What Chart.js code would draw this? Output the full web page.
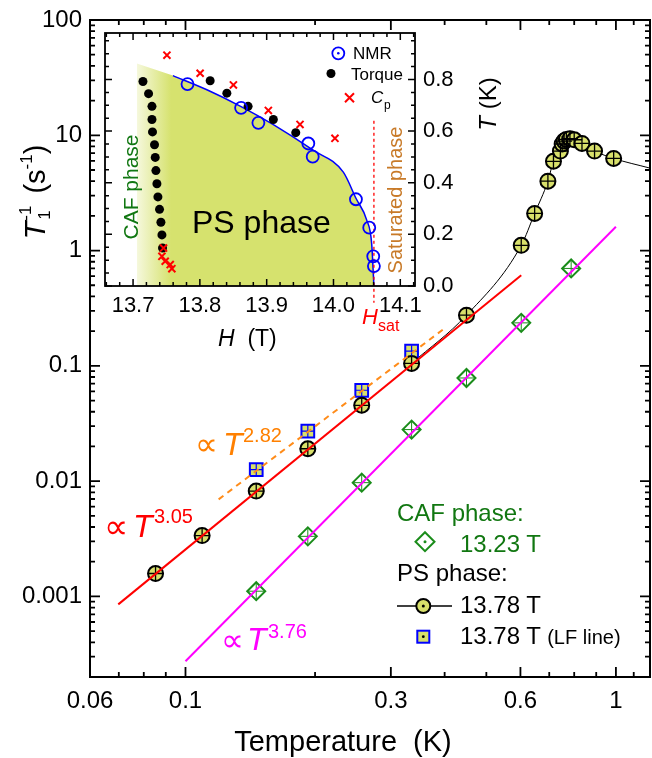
<!DOCTYPE html>
<html>
<head>
<meta charset="utf-8">
<script src="https://cdn.jsdelivr.net/npm/chart.js@4.4.1/dist/chart.umd.min.js"></script>
<style>
  body { margin: 0; background: #fff; font-family: "Liberation Sans", Arial, sans-serif; }
  #wrap { position: relative; width: 652px; height: 758px; overflow: hidden; }
  #main { position: absolute; left: 0; top: 0; }
  #inset { position: absolute; left: 94px; top: 24px; }
  .t { position: absolute; white-space: nowrap; line-height: 1; }
  .c { transform: translate(-50%, -50%); }
  .r { transform: translate(-50%, -50%) rotate(-90deg); }
  svg { position: absolute; overflow: visible; }
</style>
</head>
<body>
<div id="wrap">
  <canvas id="main" width="652" height="758"></canvas>
  <canvas id="inset" width="440" height="300"></canvas>

  <!-- main axis titles -->
  <div class="t r" style="left:33px; top:192px; font-size:29px;"><i>T</i><span style="position:relative; display:inline-block; width:20px; height:1em;"><span style="position:absolute; left:1px; top:1px; font-size:17px;">-1</span><span style="position:absolute; left:2px; top:20px; font-size:17px;">1</span></span>&nbsp;(s<span style="font-size:17px; vertical-align:0.75em;">-1</span>)</div>
  <div class="t c" style="left:343px; top:741px; font-size:29px;">Temperature&nbsp; (K)</div>

  <!-- power law labels -->
  <div class="t c" style="left:116px; top:526px; font-size:34px; color:#ff0000;">&prop;</div>
  <div class="t" style="left:133px; top:510px; font-size:32px; color:#ff0000;"><i>T</i></div>
  <div class="t" style="left:154px; top:506px; font-size:20px; color:#ff0000;">3.05</div>

  <div class="t c" style="left:206px; top:444px; font-size:32px; color:#ff8000;">&prop;</div>
  <div class="t" style="left:223px; top:428px; font-size:32px; color:#ff8000;"><i>T</i></div>
  <div class="t" style="left:243px; top:425px; font-size:20px; color:#ff8000;">2.82</div>

  <div class="t c" style="left:232px; top:640px; font-size:32px; color:#ff00ff;">&prop;</div>
  <div class="t" style="left:247px; top:623px; font-size:32px; color:#ff00ff;"><i>T</i></div>
  <div class="t" style="left:268px; top:621px; font-size:20px; color:#ff00ff;">3.76</div>

  <!-- main legend -->
  <div class="t" style="left:397px; top:501px; font-size:24px; color:#117711;">CAF phase:</div>
  <div class="t" style="left:460px; top:532px; font-size:24px; color:#117711;">13.23 T</div>
  <div class="t" style="left:397px; top:561px; font-size:24px;">PS phase:</div>
  <div class="t" style="left:460px; top:593px; font-size:24px;">13.78 T</div>
  <div class="t" style="left:460px; top:624px; font-size:24px;">13.78 T <span style="font-size:20px;">(LF line)</span></div>
  <svg style="left:390px; top:525px;" width="70" height="125">
    <path d="M35 7.2 L44.5 16.7 L35 26.2 L25.5 16.7 Z" fill="none" stroke="#1a8c1a" stroke-width="2"/>
    <circle cx="35" cy="16.7" r="1.5" fill="#1a8c1a"/>
    <line x1="7" y1="81" x2="62" y2="81" stroke="#000" stroke-width="1.3"/>
    <circle cx="33.3" cy="81" r="7" fill="#d8e06b" stroke="#000" stroke-width="2"/>
    <circle cx="33.3" cy="81" r="1.5" fill="#000"/>
    <rect x="27.3" y="105.7" width="12" height="12" fill="#d8e06b" stroke="#0000ff" stroke-width="2"/>
    <circle cx="33.3" cy="111.7" r="1.4" fill="#000"/>
  </svg>

  <!-- inset labels -->
  <div class="t" style="left:192px; top:206px; font-size:32px;">PS phase</div>
  <div class="t r" style="left:130px; top:187px; font-size:21px; color:#117711;">CAF phase</div>
  <div class="t r" style="left:395px; top:200px; font-size:20px; color:#c87a28;">Saturated phase</div>
  <div class="t r" style="left:488px; top:104px; font-size:24px;"><i>T</i> (K)</div>
  <div class="t" style="left:218px; top:327px; font-size:23px;"><i>H</i>&nbsp; (T)</div>
  <div class="t" style="left:362px; top:306px; font-size:22px; color:#ff0000;"><i>H</i></div>
  <div class="t" style="left:378px; top:318px; font-size:16px; color:#ff0000;">sat</div>

  <div class="t" style="left:353px; top:45px; font-size:17px;">NMR</div>
  <div class="t" style="left:351px; top:66px; font-size:17px;">Torque</div>
  <div class="t" style="left:371px; top:89px; font-size:17px;"><i>C</i></div>
  <div class="t" style="left:384px; top:99px; font-size:12px;">p</div>
  <svg style="left:320px; top:40px;" width="40" height="70">
    <circle cx="18.3" cy="13.3" r="6" fill="none" stroke="#0000ff" stroke-width="1.8"/>
    <circle cx="18.3" cy="13.3" r="1.3" fill="#0000ff"/>
    <circle cx="11" cy="33.5" r="4.5" fill="#000"/>
    <path d="M25 53.2 L34 62.2 M34 53.2 L25 62.2" stroke="#ff0000" stroke-width="2"/>
  </svg>
</div>

<script>
Chart.defaults.font.family = '"Liberation Sans", Arial, sans-serif';
Chart.defaults.color = '#000';

// ---- main plot: relaxation rate vs temperature ----
// PS phase, 13.78 T
const psTemp = [0.0852, 0.1093, 0.146, 0.1924, 0.2567, 0.3352, 0.4496, 0.6026, 0.6474, 0.695, 0.716, 0.743, 0.750, 0.758, 0.767, 0.782, 0.800, 0.834, 0.892, 0.988];
const psRate = [0.00158, 0.00337, 0.0082, 0.0191, 0.0455, 0.105, 0.275, 1.11, 2.10, 4.0, 5.95, 7.3, 8.4, 8.9, 9.2, 9.35, 9.15, 8.5, 7.3, 6.3];
// PS phase, 13.78 T, LF line
const lfTemp = [0.146, 0.1924, 0.2567, 0.3352];
const lfRate = [0.0126, 0.0272, 0.0614, 0.134];
// CAF phase, 13.23 T
const cafTemp = [0.146, 0.1924, 0.2567, 0.3352, 0.4496, 0.6026, 0.787];
const cafRate = [0.00111, 0.00332, 0.0097, 0.028, 0.0785, 0.236, 0.70];
// power-law fits (end points)
const fit305Temp = [0.0698, 0.6026];
const fit305Rate = [0.000853, 0.6115];
const fit282Temp = [0.1194, 0.404];
const fit282Rate = [0.00695, 0.2177];
const fit376Temp = [0.1, 1.0];
const fit376Rate = [0.000274, 1.607];
// thin guide line through the 13.78 T data
const guideTemp = [0.3352, 0.4496, 0.6026, 0.6474, 0.695, 0.716, 0.743, 0.750, 0.758, 0.767, 0.782, 0.800, 0.834, 0.892, 0.988, 1.2];
const guideRate = [0.105, 0.275, 1.11, 2.10, 4.0, 5.95, 7.3, 8.4, 8.9, 9.2, 9.35, 9.15, 8.5, 7.3, 6.3, 5.19];

const xTicks = [0.06, 0.1, 0.3, 0.6, 1];
const xTickLabels = ['0.06', '0.1', '0.3', '0.6', '1'];
const xMinorTicks = [0.07, 0.08, 0.09, 0.2, 0.4, 0.5, 0.7, 0.8, 0.9, 1.1];
const yTicks = [0.001, 0.01, 0.1, 1, 10, 100];
const yTickLabels = ['0.001', '0.01', '0.1', '1', '10', '100'];

// ---- inset: H-T phase diagram ----
const torqueH = [13.7148, 13.7232, 13.7283, 13.7283, 13.7291, 13.7321, 13.7332, 13.7342, 13.7357, 13.7372, 13.7396, 13.7417, 13.7432, 13.7441,
                 13.8154, 13.8404, 13.8722, 13.91, 13.9435];
const torqueT = [0.792, 0.745, 0.696, 0.645, 0.597, 0.547, 0.498, 0.447, 0.396, 0.345, 0.297, 0.247, 0.198, 0.147,
                 0.795, 0.747, 0.696, 0.645, 0.594];
const nmrH = [13.7815, 13.8617, 13.8876, 13.9623, 13.9689, 14.0336, 14.0535, 14.0595, 14.0605];
const nmrT = [0.782, 0.690, 0.632, 0.552, 0.501, 0.336, 0.226, 0.115, 0.077];
const cpH = [13.7507, 13.8004, 13.8502, 13.9025, 13.9499, 14.0022, 13.7456, 13.7432, 13.7481, 13.7556, 13.7581];
const cpT = [0.894, 0.824, 0.779, 0.680, 0.626, 0.572, 0.147, 0.115, 0.096, 0.083, 0.067];
const boundaryH = [13.7596, 13.8105, 13.8617, 13.91, 13.9689, 14.0147, 14.0336, 14.0496, 14.0571, 14.0605];
const boundaryT = [0.815, 0.760, 0.695, 0.625, 0.527, 0.441, 0.340, 0.256, 0.165, 0.0];
const regionH = [13.7057].concat(boundaryH);
const regionT = [0.862].concat(boundaryT);
const hsatH = [14.0605, 14.0605];
const hsatT = [0.64, -0.065];

const insetXTicks = [13.7, 13.8, 13.9, 14.0, 14.1];
const insetYTicks = [0, 0.2, 0.4, 0.6, 0.8];

const pts = (xs, ys) => xs.map((x, i) => ({ x: x, y: ys[i] }));

// keep the plot box exactly where the layout padding puts it
const noPad = (s) => { s.paddingLeft = 0; s.paddingRight = 0; s.paddingTop = 0; s.paddingBottom = 0; };

// inward ticks on all four sides plus the box
const framePlugin = {
  id: 'frame',
  beforeDatasetsDraw(chart, args, o) {
    if (!o.fillArea) return;
    const { ctx, chartArea: a } = chart;
    ctx.save();
    ctx.fillStyle = '#fff';
    ctx.fillRect(a.left, a.top, a.right - a.left, a.bottom - a.top);
    ctx.restore();
  },
  afterDatasetsDraw(chart, args, o) {
    const { ctx, chartArea: a } = chart;
    const xs = chart.scales.x, ys = chart.scales.y;
    ctx.save();
    ctx.strokeStyle = '#000';
    ctx.lineWidth = o.tickWidth;
    ctx.beginPath();
    const xTick = (v, len) => {
      const p = xs.getPixelForValue(v);
      ctx.moveTo(p, a.bottom); ctx.lineTo(p, a.bottom - len);
      ctx.moveTo(p, a.top); ctx.lineTo(p, a.top + len);
    };
    const yTick = (v, len) => {
      const p = ys.getPixelForValue(v);
      ctx.moveTo(a.left, p); ctx.lineTo(a.left + len, p);
      ctx.moveTo(a.right, p); ctx.lineTo(a.right - len, p);
    };
    o.xMajor.forEach(v => xTick(v, o.major));
    o.xMinor.forEach(v => xTick(v, o.minor));
    o.yMajor.forEach(v => yTick(v, o.major));
    o.yMinor.forEach(v => yTick(v, o.minor));
    ctx.stroke();
    ctx.lineWidth = o.lineWidth;
    ctx.strokeRect(a.left, a.top, a.right - a.left, a.bottom - a.top);
    ctx.restore();
  }
};

const yMinorTicks = [];
for (let e = -4; e <= 1; e++) {
  for (let m = 2; m <= 9; m++) {
    const v = m * Math.pow(10, e);
    if (v > 0.0002 && v < 100) yMinorTicks.push(v);
  }
}

const yellow = '#d8e06b';

new Chart(document.getElementById('main'), {
  type: 'scatter',
  data: {
    datasets: [
      { label: 'T^3.05', data: pts(fit305Temp, fit305Rate), showLine: true, borderColor: '#ff0000', borderWidth: 2, pointRadius: 0, order: 0 },
      { label: 'T^2.82', data: pts(fit282Temp, fit282Rate), showLine: true, borderColor: '#ff8c1a', borderWidth: 2, borderDash: [6, 5], pointRadius: 0, order: 0 },
      { label: 'T^3.76', data: pts(fit376Temp, fit376Rate), showLine: true, borderColor: '#ff00ff', borderWidth: 2, pointRadius: 0, order: 0 },
      { label: '13.78 T err', data: pts(psTemp, psRate), pointStyle: 'cross', pointRadius: 8, borderColor: '#000', borderWidth: 1.3, order: 1 },
      { label: 'LF err', data: pts(lfTemp, lfRate), pointStyle: 'cross', pointRadius: 6, borderColor: '#0000ff', borderWidth: 1.2, order: 1 },
      { label: '13.23 T err', data: pts(cafTemp, cafRate), pointStyle: 'cross', pointRadius: 8, borderColor: '#1a8c1a', borderWidth: 1, order: 1 },
      { label: '13.78 T', data: pts(psTemp, psRate), pointStyle: 'circle', pointRadius: 7.5, backgroundColor: yellow, borderColor: '#000', borderWidth: 2, order: 2 },
      { label: '13.78 T (LF line)', data: pts(lfTemp, lfRate), pointStyle: 'rect', pointRadius: 9, backgroundColor: yellow, borderColor: '#0000ff', borderWidth: 2, order: 2 },
      { label: '13.23 T', data: pts(cafTemp, cafRate), pointStyle: 'rectRot', pointRadius: 9, backgroundColor: 'rgba(0,0,0,0)', borderColor: '#1a8c1a', borderWidth: 2, order: 2 },
      { label: 'guide', data: pts(guideTemp, guideRate), showLine: true, borderColor: '#000', borderWidth: 1, pointRadius: 0, cubicInterpolationMode: 'monotone', order: 3 }
    ]
  },
  options: {
    responsive: false,
    animation: false,
    devicePixelRatio: 1,
    layout: { autoPadding: false, padding: { top: 20, right: 2 } },
    plugins: {
      legend: { display: false },
      tooltip: { enabled: false },
      frame: { xMajor: xTicks, xMinor: xMinorTicks, yMajor: yTicks, yMinor: yMinorTicks, major: 10, minor: 5, tickWidth: 1.8, lineWidth: 2 }
    },
    scales: {
      x: {
        type: 'logarithmic', min: 0.06, max: 1.2,
        grid: { display: false, drawTicks: false }, border: { display: false },
        ticks: { font: { size: 24 }, color: '#000', padding: 10, maxRotation: 0, autoSkip: false,
                 callback: (v, i) => xTickLabels[i] },
        afterBuildTicks: (s) => { s.ticks = xTicks.map(v => ({ value: v })); },
        afterFit: (s) => { s.height = 81; noPad(s); }
      },
      y: {
        type: 'logarithmic', min: 0.0002, max: 100,
        grid: { display: false, drawTicks: false }, border: { display: false },
        ticks: { font: { size: 24 }, color: '#000', padding: 8, autoSkip: false,
                 callback: (v, i) => yTickLabels[i] },
        afterBuildTicks: (s) => { s.ticks = yTicks.map(v => ({ value: v })); },
        afterFit: (s) => { s.width = 90; noPad(s); }
      }
    }
  },
  plugins: [framePlugin]
});

const insetXMinor = [];
for (let h = 13.66; h < 14.125; h += 0.02) insetXMinor.push(Math.round(h * 100) / 100);
const insetYMinor = [];
for (let t = 0.05; t < 0.98; t += 0.05) insetYMinor.push(Math.round(t * 100) / 100);

// green PS region fades to white towards the CAF side
const fadeFrom = 13.69, fadeTo = 13.757;

new Chart(document.getElementById('inset'), {
  type: 'scatter',
  data: {
    datasets: [
      { label: 'Cp', data: pts(cpH, cpT), pointStyle: 'crossRot', pointRadius: 5, borderColor: '#ff0000', borderWidth: 2, order: 1 },
      { label: 'NMR', data: pts(nmrH, nmrT), pointStyle: 'circle', pointRadius: 6, backgroundColor: 'rgba(0,0,0,0)', borderColor: '#0000ff', borderWidth: 1.8, order: 2 },
      { label: 'Torque', data: pts(torqueH, torqueT), pointStyle: 'circle', pointRadius: 4.5, backgroundColor: '#000', borderColor: '#000', borderWidth: 0, order: 3 },
      { label: 'Hsat', data: pts(hsatH, hsatT), showLine: true, borderColor: '#ff0000', borderWidth: 1.3, borderDash: [3, 3], pointRadius: 0, clip: false, order: 4 },
      { label: 'boundary', data: pts(boundaryH, boundaryT), showLine: true, borderColor: '#0000ff', borderWidth: 1.5, pointRadius: 0, cubicInterpolationMode: 'monotone', order: 5 },
      { label: 'PS region', data: pts(regionH, regionT), showLine: true, fill: 'origin', borderWidth: 0, borderColor: 'rgba(0,0,0,0)', pointRadius: 0,
        cubicInterpolationMode: 'monotone', order: 9,
        backgroundColor: (c) => {
          const chart = c.chart;
          if (!chart.chartArea) return yellow;
          const xs = chart.scales.x;
          const g = chart.ctx.createLinearGradient(xs.getPixelForValue(fadeFrom), 0, xs.getPixelForValue(fadeTo), 0);
          g.addColorStop(0, '#ffffff');
          g.addColorStop(1, '#d6e26e');
          return g;
        } }
    ]
  },
  options: {
    responsive: false,
    animation: false,
    devicePixelRatio: 1,
    layout: { autoPadding: false, padding: { left: 11, top: 9 } },
    plugins: {
      legend: { display: false },
      tooltip: { enabled: false },
      frame: { xMajor: insetXTicks, xMinor: insetXMinor, yMajor: insetYTicks, yMinor: insetYMinor, major: 7, minor: 4, tickWidth: 1.5, lineWidth: 1.8, fillArea: true }
    },
    scales: {
      x: {
        type: 'linear', min: 13.658, max: 14.122,
        grid: { display: false, drawTicks: false }, border: { display: false },
        ticks: { font: { size: 22 }, color: '#000', padding: 7, maxRotation: 0, autoSkip: false,
                 callback: (v) => v.toFixed(1) },
        afterBuildTicks: (s) => { s.ticks = insetXTicks.map(v => ({ value: v })); },
        afterFit: (s) => { s.height = 38; noPad(s); }
      },
      y: {
        type: 'linear', position: 'right', min: 0, max: 0.98,
        grid: { display: false, drawTicks: false }, border: { display: false },
        ticks: { font: { size: 22 }, color: '#000', padding: 8, autoSkip: false,
                 callback: (v) => v.toFixed(1) },
        afterBuildTicks: (s) => { s.ticks = insetYTicks.map(v => ({ value: v })); },
        afterFit: (s) => { s.width = 119; noPad(s); }
      }
    }
  },
  plugins: [framePlugin]
});
</script>
</body>
</html>
